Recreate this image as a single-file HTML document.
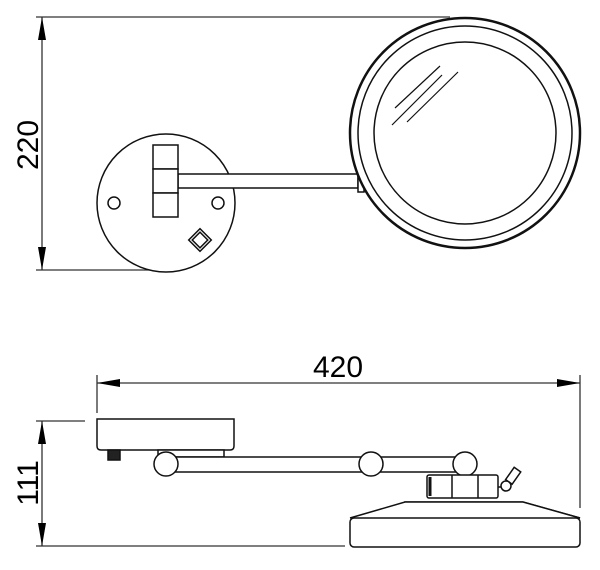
<!DOCTYPE html>
<html><head><meta charset="utf-8"><style>html,body{margin:0;padding:0;background:#fff}</style></head>
<body>
<svg width="600" height="565" viewBox="0 0 600 565" xmlns="http://www.w3.org/2000/svg" font-family="Liberation Sans, sans-serif">
<g stroke="#333" stroke-width="1.3" fill="none">
<line x1="36" y1="17" x2="450" y2="17"/>
<line x1="36" y1="270" x2="170" y2="270"/>
<line x1="42" y1="17" x2="42" y2="270"/>
<line x1="97" y1="375" x2="97" y2="413"/>
<line x1="580" y1="375" x2="580" y2="508"/>
<line x1="97" y1="383" x2="580" y2="383"/>
<line x1="36" y1="421" x2="85" y2="421"/>
<line x1="36" y1="546" x2="345" y2="546"/>
<line x1="42" y1="421" x2="42" y2="546"/>
</g>
<g fill="#000">
<polygon points="42,17 38,40 46,40"/>
<polygon points="42,270 38,247 46,247"/>
<polygon points="97,383 120,379 120,387"/>
<polygon points="580,383 557,379 557,387"/>
<polygon points="42,421 38,444 46,444"/>
<polygon points="42,546 38,523 46,523"/>
</g>
<text x="338" y="377" font-size="30" text-anchor="middle">420</text>
<text transform="translate(38,145) rotate(-90)" font-size="30" text-anchor="middle">220</text>
<text transform="translate(38,483) rotate(-90)" font-size="30" text-anchor="middle">111</text>
<g stroke="#111" stroke-width="1.5" fill="#fff">
<circle cx="166" cy="203" r="69"/>
<circle cx="114" cy="203" r="6"/>
<circle cx="218" cy="203" r="6"/>
<rect x="178" y="174" width="180" height="14"/>
<rect x="358" y="174" width="6" height="18"/>
<rect x="153" y="145" width="25" height="24"/>
<rect x="153" y="169" width="25" height="24"/>
<rect x="153" y="193" width="25" height="24"/>
<g transform="translate(200,240) rotate(-45)"><rect x="-8" y="-8" width="16" height="16"/><rect x="-5.5" y="-5.5" width="11" height="11"/></g>
<circle cx="465" cy="133" r="115" stroke-width="2.5"/>
<circle cx="465" cy="133" r="107"/>
<circle cx="465" cy="133" r="91"/>
</g>
<g stroke="#111" stroke-width="1.2">
<line x1="395" y1="108" x2="440" y2="66"/>
<line x1="392" y1="125" x2="442" y2="75"/>
<line x1="407" y1="122" x2="458" y2="72"/>
</g>
<g stroke="#111" stroke-width="1.5" fill="#fff">
<path d="M97,419 H234 V446 Q234,450 230,450 H101 Q97,450 97,446 Z"/>
<rect x="108" y="450" width="12" height="10" fill="#222"/>
<path d="M158,450 H224 V457 H158 Z"/>
<rect x="166" y="457" width="299" height="15"/>
<circle cx="166" cy="464" r="12"/>
<circle cx="371" cy="464" r="12"/>
<circle cx="465" cy="464" r="12"/>
<path d="M405,518 L405,502 H523 L580,518 Z"/>
<path d="M350,518 L405,502 H523 L580,518"/>
<rect x="350" y="518" width="230" height="29" rx="4"/>
<rect x="427" y="475" width="71" height="23" rx="2"/>
<line x1="452" y1="475" x2="452" y2="498"/>
<line x1="478" y1="475" x2="478" y2="498"/>
<line x1="430" y1="477" x2="430" y2="496" stroke-width="3"/>
<line x1="498" y1="487" x2="505" y2="487"/>
<g transform="translate(506,486) rotate(35)"><rect x="-4" y="-20" width="8" height="15"/></g>
<circle cx="506" cy="486" r="5"/>
</g>
</svg>
</body></html>
